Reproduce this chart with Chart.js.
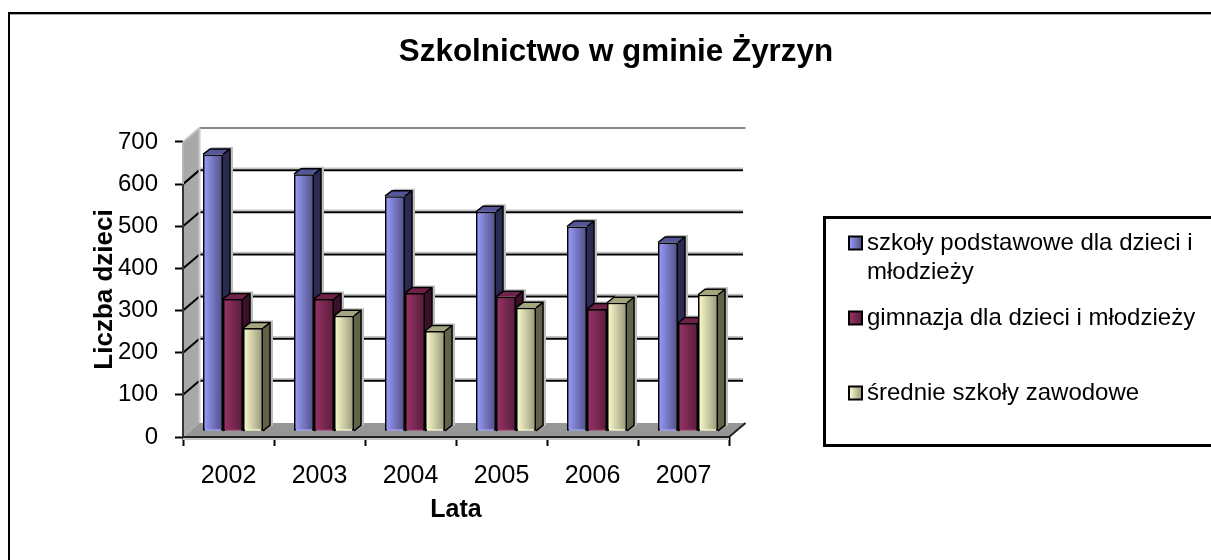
<!DOCTYPE html>
<html>
<head>
<meta charset="utf-8">
<style>
    html, body { margin: 0; padding: 0; background: #fff; }
    #wrap { position: relative; width: 1211px; height: 560px; overflow: hidden; }
</style>
</head>
<body>
<div id="wrap"><canvas id="chart" width="1211" height="560"></canvas></div>
<script src="https://cdn.jsdelivr.net/npm/chart.js@4"></script>
<script>
const FONT = '"Liberation Sans", Arial, sans-serif'

const years = ['2002', '2003', '2004', '2005', '2006', '2007']
const podstawowe = [657, 610, 558, 521, 486, 448]
const gimnazja = [314, 314, 328, 319, 290, 257]
const zawodowe = [245, 274, 238, 293, 305, 324]
const yTicks = [0, 100, 200, 300, 400, 500, 600, 700]
const legendLines = [
    ['szkoły podstawowe dla dzieci i', 'młodzieży'],
    ['gimnazja dla dzieci i młodzieży'],
    ['średnie szkoły zawodowe'],
]

// offsets of the fake 3D look
const WALL_DX = 16.5
const WALL_DY = -14
const BAR_DX = 4.5
const BAR_DY = -5.7
const DEPTH_DX = 7
const DEPTH_DY = -5.5

const palettes = [
    { left: '#9c9eff', right: '#4e4e80', side: '#2b2b52', top: '#55559a' },
    { left: '#9c3468', right: '#561c3a', side: '#3a0f27', top: '#6e2248' },
    { left: '#ffffcf', right: '#96967a', side: '#62624a', top: '#a6a67e' },
]

function poly(ctx, points, fill) {
    ctx.beginPath()
    points.forEach((p, i) => (i ? ctx.lineTo(p[0], p[1]) : ctx.moveTo(p[0], p[1])))
    ctx.closePath()
    ctx.fillStyle = fill
    ctx.fill()
}

function segment(ctx, x1, y1, x2, y2, color, width) {
    ctx.strokeStyle = color
    ctx.lineWidth = width
    ctx.beginPath()
    ctx.moveTo(x1, y1)
    ctx.lineTo(x2, y2)
    ctx.stroke()
}

// back wall, side wall and floor, all hung on the real scales
const wallsPlugin = {
    id: 'walls',
    beforeDatasetsDraw(chart) {
        const { ctx, chartArea: a, scales } = chart
        const y = scales.y
        const backX = a.left + WALL_DX
        ctx.save()
        poly(ctx, [[a.left, a.top], [backX, a.top + WALL_DY], [backX, a.bottom + WALL_DY], [a.left, a.bottom]], '#a8a8a8')
        poly(ctx, [[a.left, a.bottom], [backX, a.bottom + WALL_DY], [a.right + WALL_DX, a.bottom + WALL_DY], [a.right, a.bottom]], '#969696')

        yTicks.forEach((v) => {
            const py = y.getPixelForValue(v)
            if (v > 0 && v < 700) {
                segment(ctx, backX, py + WALL_DY - 2, a.right + 14, py + WALL_DY - 2, '#c4c4c4', 1.5)
                segment(ctx, backX, py + WALL_DY, a.right + 14, py + WALL_DY, '#000', 2)
                segment(ctx, a.left, py, backX, py + WALL_DY, '#000', 2)
            }
        })

        // top and back edge in grey
        segment(ctx, a.left, a.top, backX, a.top + WALL_DY, '#c4c4c4', 2)
        segment(ctx, backX, a.top + WALL_DY, a.right + WALL_DX, a.top + WALL_DY, '#868686', 2)
        segment(ctx, backX, a.top + WALL_DY, backX, a.bottom + WALL_DY, '#c8c8c8', 2)

        // front edges of the floor and the wall
        const y600 = y.getPixelForValue(600)
        segment(ctx, a.left, a.top, a.left, y600, '#b4b4b4', 2)
        segment(ctx, a.left, y600, a.left, a.bottom, '#333', 2)
        segment(ctx, a.left, a.bottom + 2, a.right, a.bottom + 2, '#c4c4c4', 2)
        segment(ctx, a.left, a.bottom, a.right, a.bottom, '#222', 2)
        segment(ctx, a.right, a.bottom, a.right + WALL_DX, a.bottom + WALL_DY, '#222', 2)
        ctx.restore()
    },
    // the library paints the first dataset last, here the blue block has to go first
    beforeDatasetDraw() {
        return false
    },
    afterDatasetsDraw(chart) {
        const { ctx } = chart
        ctx.save()
        ctx.translate(BAR_DX, BAR_DY)
        chart.getSortedVisibleDatasetMetas().forEach((meta) => {
            const pal = palettes[meta.index]
            meta.data.forEach((bar) => {
                const l = bar.x - bar.width / 2
                const r = bar.x + bar.width / 2
                const t = bar.y
                const b = bar.base
                // soft grey shadow behind the block
                poly(ctx, [[l + 2, t - 1], [l + DEPTH_DX + 2, t + DEPTH_DY - 2], [r + DEPTH_DX + 3, t + DEPTH_DY - 2], [r + DEPTH_DX + 3, b + DEPTH_DY], [r + 2, b]], '#bdbdbd')
                poly(ctx, [[r, t], [r + DEPTH_DX, t + DEPTH_DY], [r + DEPTH_DX, b + DEPTH_DY], [r, b]], pal.side)
                poly(ctx, [[l, t], [l + DEPTH_DX, t + DEPTH_DY], [r + DEPTH_DX, t + DEPTH_DY], [r, t]], pal.top)
                ctx.strokeStyle = '#000'
                ctx.lineWidth = 1.5
                ctx.beginPath()
                ctx.moveTo(l, t)
                ctx.lineTo(l + DEPTH_DX, t + DEPTH_DY)
                ctx.lineTo(r + DEPTH_DX, t + DEPTH_DY)
                ctx.lineTo(r + DEPTH_DX, b + DEPTH_DY)
                ctx.lineTo(r, b)
                ctx.moveTo(r + DEPTH_DX, t + DEPTH_DY)
                ctx.lineTo(r, t)
                ctx.stroke()
                bar.draw(ctx)
                const grad = ctx.createLinearGradient(l, 0, r, 0)
                grad.addColorStop(0, pal.left)
                grad.addColorStop(1, pal.right)
                ctx.fillStyle = grad
                ctx.fillRect(l + 1.5, t + 1.5, r - l - 3, b - t - 3)
            })
        })
        ctx.restore()
    },
    afterLayout(chart) {
        // the title is centred on 616, not on the plot
        chart.titleBlock.left = 0
        chart.titleBlock.right = 1232
    },
}

// frame round the page and the legend box
const framePlugin = {
    id: 'frame',
    afterDraw(chart) {
        const { ctx } = chart
        ctx.save()
        segment(ctx, 9, 14.5, 1211, 14.5, '#aaa', 1)
        ctx.strokeStyle = '#000'
        ctx.lineWidth = 2
        ctx.strokeRect(9, 13, 1300, 1000)

        ctx.lineWidth = 3
        ctx.strokeRect(824.5, 217.5, 500, 228)

        const swatchX = 849
        const rows = [243, 318, 393]
        ctx.font = '24px ' + FONT
        ctx.textBaseline = 'middle'
        legendLines.forEach((lines, i) => {
            const y = rows[i]
            const pal = palettes[i]
            const grad = ctx.createLinearGradient(swatchX, 0, swatchX + 13, 0)
            grad.addColorStop(0, pal.left)
            grad.addColorStop(1, pal.right)
            ctx.fillStyle = grad
            ctx.fillRect(swatchX, y - 6.5, 13, 13)
            ctx.strokeStyle = '#000'
            ctx.lineWidth = 2
            ctx.strokeRect(swatchX, y - 6.5, 13, 13)
            ctx.fillStyle = '#000'
            lines.forEach((text, j) => ctx.fillText(text, 867, y + j * 29))
        })
        ctx.restore()
    },
}

const makeSet = (label, data, color) => ({
    label,
    data,
    backgroundColor: color,
    borderColor: '#000',
    borderWidth: 2,
    clip: false,
})

new Chart(document.getElementById('chart'), {
    type: 'bar',
    data: {
        labels: years,
        datasets: [
            makeSet('szkoły podstawowe dla dzieci i młodzieży', podstawowe, palettes[0].left),
            makeSet('gimnazja dla dzieci i młodzieży', gimnazja, palettes[1].left),
            makeSet('średnie szkoły zawodowe', zawodowe, palettes[2].left),
        ],
    },
    plugins: [wallsPlugin, framePlugin],
    options: {
        responsive: false,
        animation: false,
        layout: { padding: { left: 89, right: 482, top: 0, bottom: 35 } },
        datasets: { bar: { categoryPercentage: 0.66, barPercentage: 1 } },
        plugins: {
            legend: { display: false },
            tooltip: { enabled: false },
            title: {
                display: true,
                text: 'Szkolnictwo w gminie Żyrzyn',
                color: '#000',
                font: { family: FONT, size: 31.4, weight: 'bold' },
                padding: { top: 34, bottom: 70.3 },
            },
        },
        scales: {
            x: {
                afterFit(axis) {
                    axis.height = 88
                },
                grid: { drawOnChartArea: false, tickLength: 9, tickColor: '#000', tickWidth: 2 },
                border: { display: false },
                ticks: { color: '#000', font: { family: FONT, size: 25 }, padding: 15, maxRotation: 0 },
                title: { display: true, text: 'Lata', color: '#000', font: { family: FONT, size: 25, weight: 'bold' }, padding: 0 },
            },
            y: {
                min: 0,
                max: 700,
                afterBuildTicks(axis) {
                    axis.ticks = yTicks.map((value) => ({ value }))
                },
                afterFit(axis) {
                    axis.width = 94
                },
                grid: { drawOnChartArea: false, tickLength: 8, tickColor: '#000', tickWidth: 2 },
                border: { display: false },
                ticks: { color: '#000', font: { family: FONT, size: 24 }, padding: 17 },
                title: { display: true, text: 'Liczba dzieci', color: '#000', font: { family: FONT, size: 26, weight: 'bold' }, padding: 0 },
            },
        },
    },
})
</script>
</body>
</html>
